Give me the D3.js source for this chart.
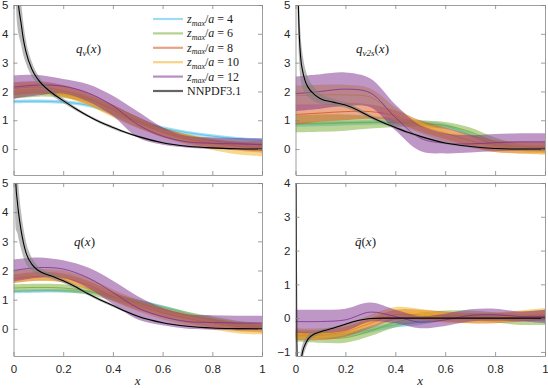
<!DOCTYPE html>
<html>
<head>
<meta charset="utf-8">
<script src="https://cdn.jsdelivr.net/npm/d3@7"></script>
<style>
  body { margin: 0; background: #fff; }
  text { font-family: "Liberation Sans", Arial, sans-serif; }
</style>
</head>
<body>
<svg id="chart" width="548" height="388"></svg>
<script>
// lattice results, sampled at xs
var xs = [0, 0.1, 0.2, 0.3, 0.4, 0.5, 0.6, 0.7, 0.8, 0.9, 1.0];
var zmax = [4, 6, 8, 10, 12];
var colors = ["#4dbeee", "#77ac30", "#d95319", "#edb120", "#7e2f8e"];

// q_v(x): one row per zmax/a
var qvMid = [
  [1.65, 1.66, 1.63, 1.52, 1.25, 0.95, 0.73, 0.57, 0.45, 0.36, 0.30],
  [1.90, 1.95, 1.90, 1.72, 1.40, 1.00, 0.65, 0.42, 0.28, 0.20, 0.15],
  [2.10, 2.15, 2.02, 1.75, 1.35, 0.93, 0.58, 0.35, 0.20, 0.10, 0.05],
  [2.00, 2.10, 2.00, 1.72, 1.30, 0.90, 0.55, 0.30, 0.12, 0.00, -0.05],
  [2.15, 2.22, 2.18, 1.95, 1.50, 0.85, 0.45, 0.25, 0.20, 0.18, 0.15]
];
var qvErr = [
  [0.06, 0.06, 0.06, 0.06, 0.06, 0.06, 0.06, 0.06, 0.06, 0.06, 0.06],
  [0.15, 0.13, 0.12, 0.12, 0.12, 0.12, 0.10, 0.10, 0.10, 0.10, 0.12],
  [0.22, 0.20, 0.20, 0.20, 0.20, 0.18, 0.16, 0.15, 0.15, 0.15, 0.18],
  [0.25, 0.20, 0.20, 0.20, 0.20, 0.18, 0.15, 0.15, 0.15, 0.18, 0.20],
  [0.40, 0.35, 0.25, 0.30, 0.35, 0.45, 0.30, 0.20, 0.20, 0.20, 0.22]
];

// q_v2s(x)
var qv2sMid = [
  [0.85, 0.87, 0.90, 0.92, 0.93, 0.90, 0.80, 0.50, 0.15, 0.02, 0.00],
  [0.88, 0.90, 0.92, 0.93, 0.92, 0.88, 0.82, 0.60, 0.25, 0.05, 0.00],
  [1.20, 1.25, 1.30, 1.30, 1.15, 0.80, 0.55, 0.30, 0.10, 0.05, 0.05],
  [1.85, 1.88, 1.88, 1.80, 1.20, 0.75, 0.45, 0.25, 0.10, 0.05, 0.00],
  [1.92, 2.00, 2.08, 1.95, 1.10, 0.38, 0.20, 0.18, 0.22, 0.25, 0.25]
];
var qv2sErr = [
  [0.08, 0.08, 0.08, 0.08, 0.08, 0.08, 0.08, 0.08, 0.08, 0.08, 0.08],
  [0.30, 0.30, 0.28, 0.22, 0.15, 0.12, 0.12, 0.15, 0.15, 0.12, 0.12],
  [0.35, 0.30, 0.30, 0.25, 0.20, 0.20, 0.20, 0.20, 0.20, 0.20, 0.20],
  [0.35, 0.35, 0.35, 0.30, 0.25, 0.20, 0.20, 0.20, 0.20, 0.20, 0.20],
  [0.60, 0.60, 0.58, 0.50, 0.45, 0.45, 0.35, 0.30, 0.30, 0.30, 0.30]
];

// q(x)
var qMid = [
  [1.28, 1.30, 1.30, 1.27, 1.12, 0.95, 0.75, 0.52, 0.32, 0.17, 0.08],
  [1.40, 1.42, 1.40, 1.30, 1.10, 0.88, 0.66, 0.46, 0.30, 0.15, 0.08],
  [1.72, 1.80, 1.75, 1.50, 1.12, 0.80, 0.55, 0.35, 0.20, 0.08, 0.02],
  [1.80, 1.85, 1.80, 1.55, 1.15, 0.80, 0.52, 0.32, 0.18, 0.05, 0.00],
  [2.00, 2.10, 2.05, 1.75, 1.25, 0.72, 0.42, 0.25, 0.22, 0.20, 0.20]
];
var qErr = [
  [0.06, 0.06, 0.06, 0.06, 0.06, 0.06, 0.06, 0.06, 0.06, 0.06, 0.06],
  [0.13, 0.13, 0.13, 0.13, 0.13, 0.13, 0.13, 0.13, 0.13, 0.13, 0.13],
  [0.15, 0.15, 0.15, 0.15, 0.15, 0.15, 0.15, 0.15, 0.15, 0.15, 0.15],
  [0.20, 0.20, 0.20, 0.20, 0.20, 0.20, 0.20, 0.20, 0.20, 0.20, 0.20],
  [0.38, 0.35, 0.30, 0.35, 0.40, 0.40, 0.30, 0.25, 0.25, 0.25, 0.25]
];

// qbar(x)
var qbarMid = [
  [-0.50, -0.50, -0.48, -0.35, -0.20, -0.12, 0.00, 0.05, 0.03, 0.00, 0.00],
  [-0.55, -0.58, -0.58, -0.38, -0.12, 0.02, 0.08, 0.08, 0.02, -0.05, -0.05],
  [-0.50, -0.50, -0.40, -0.15, 0.10, 0.10, 0.05, 0.00, 0.00, 0.05, 0.10],
  [-0.45, -0.45, -0.35, -0.05, 0.18, 0.12, 0.02, 0.00, 0.02, 0.08, 0.15],
  [-0.10, -0.10, -0.05, 0.18, 0.05, -0.12, -0.05, 0.08, 0.10, 0.05, 0.05]
];
var qbarErr = [
  [0.08, 0.08, 0.08, 0.08, 0.08, 0.08, 0.08, 0.08, 0.08, 0.08, 0.08],
  [0.15, 0.15, 0.15, 0.15, 0.15, 0.15, 0.15, 0.15, 0.15, 0.15, 0.15],
  [0.15, 0.15, 0.15, 0.15, 0.15, 0.15, 0.15, 0.15, 0.15, 0.15, 0.15],
  [0.15, 0.15, 0.15, 0.15, 0.15, 0.15, 0.15, 0.15, 0.15, 0.15, 0.15],
  [0.35, 0.35, 0.33, 0.28, 0.20, 0.18, 0.18, 0.18, 0.18, 0.15, 0.20]
];

// NNPDF3.1, denser at small x
var nnX = [0.002, 0.005, 0.01, 0.015, 0.02, 0.03, 0.04, 0.05, 0.075, 0.1, 0.15, 0.2,
           0.25, 0.3, 0.35, 0.4, 0.45, 0.5, 0.6, 0.7, 0.8, 0.9, 1.0];
var qvNN = [12, 8.5, 6.6, 5.5, 5.0, 4.4, 3.8, 3.38, 2.75, 2.4, 1.98, 1.68,
            1.4, 1.15, 0.93, 0.75, 0.58, 0.44, 0.22, 0.1, 0.04, 0.01, 0];
var qvNNErr = [2.5, 2.0, 1.6, 1.2, 1.0, 0.75, 0.55, 0.4, 0.25, 0.15, 0.1, 0.08,
               0.06, 0.05, 0.05, 0.05, 0.04, 0.04, 0.03, 0.02, 0.02, 0.01, 0.01];
var qv2sNN = [14, 9, 5.6, 4.0, 3.25, 2.65, 2.33, 2.15, 1.9, 1.75, 1.63, 1.53,
              1.35, 1.12, 0.92, 0.75, 0.58, 0.44, 0.21, 0.09, 0.02, 0.0, 0.0];
var qv2sNNErr = [4, 2.5, 1.5, 1.0, 0.8, 0.55, 0.42, 0.33, 0.24, 0.18, 0.12, 0.1,
                 0.08, 0.07, 0.05, 0.05, 0.05, 0.05, 0.04, 0.03, 0.02, 0.02, 0.02];
var qNN = [12, 6.5, 4.9, 4.4, 4.0, 3.4, 2.95, 2.62, 2.2, 2.0, 1.82, 1.65,
           1.44, 1.2, 0.99, 0.8, 0.6, 0.43, 0.21, 0.09, 0.03, 0.01, 0];
var qNNErr = [2.5, 2.0, 1.5, 1.1, 0.9, 0.65, 0.5, 0.38, 0.22, 0.14, 0.1, 0.08,
              0.06, 0.05, 0.05, 0.05, 0.04, 0.04, 0.03, 0.02, 0.02, 0.01, 0.01];
var qbarNN = [5, -0.6, -1.7, -1.7, -1.35, -0.95, -0.76, -0.62, -0.47, -0.4, -0.3, -0.18,
              -0.07, -0.01, 0, 0, 0, 0, 0, 0, 0, 0, 0];
var qbarNNErr = [2, 1, 0.5, 0.4, 0.32, 0.22, 0.16, 0.12, 0.08, 0.06, 0.04, 0.03,
                 0.02, 0.02, 0.02, 0.02, 0.02, 0.02, 0.02, 0.02, 0.02, 0.02, 0.02];

var svg = d3.select("#chart");

var panels = [
  {id: "qv",   left: 13.5,  right: 262, top: 5,   bottom: 175, ydom: [-0.9, 5],  yticks: [0,1,2,3,4,5],
   mid: qvMid, err: qvErr, nn: qvNN, nnErr: qvNNErr, xlabels: false},
  {id: "qv2s", left: 295.5, right: 545, top: 5,   bottom: 175, ydom: [-0.9, 5],  yticks: [0,1,2,3,4,5],
   mid: qv2sMid, err: qv2sErr, nn: qv2sNN, nnErr: qv2sNNErr, xlabels: false},
  {id: "q",    left: 13.5,  right: 262, top: 183, bottom: 356, ydom: [-0.93, 5], yticks: [0,1,2,3,4,5],
   mid: qMid, err: qErr, nn: qNN, nnErr: qNNErr, xlabels: true},
  {id: "qbar", left: 295.5, right: 545, top: 183, bottom: 356, ydom: [-1.12, 4], yticks: [-1,0,1,2,3,4],
   mid: qbarMid, err: qbarErr, nn: qbarNN, nnErr: qbarNNErr, xlabels: true}
];

function styleAxis(g) {
  g.selectAll("path, line").attr("stroke", "#858585").attr("stroke-width", 0.8);
  g.selectAll("text").attr("fill", "#262626").style("font-size", "11.5px");
}

panels.forEach(function(p) {
  var x = d3.scaleLinear().domain([0, 1]).range([p.left, p.right]);
  var y = d3.scaleLinear().domain(p.ydom).range([p.bottom, p.top]);

  svg.append("clipPath").attr("id", "clip-" + p.id)
    .append("rect")
    .attr("x", p.left).attr("y", p.top)
    .attr("width", p.right - p.left).attr("height", p.bottom - p.top);

  var plot = svg.append("g").attr("clip-path", "url(#clip-" + p.id + ")");

  p.mid.forEach(function(m, k) {
    var e = p.err[k];
    var band = d3.area()
      .x(function(d, i) { return x(xs[i]); })
      .y0(function(d, i) { return y(d - e[i]); })
      .y1(function(d, i) { return y(d + e[i]); })
      .curve(d3.curveCatmullRom.alpha(0.5));
    var line = d3.line()
      .x(function(d, i) { return x(xs[i]); })
      .y(function(d) { return y(d); })
      .curve(d3.curveCatmullRom.alpha(0.5));
    plot.append("path").datum(m).attr("d", band)
      .attr("fill", colors[k]).attr("fill-opacity", 0.5).attr("stroke", "none");
    plot.append("path").datum(m).attr("d", line)
      .attr("fill", "none").attr("stroke", colors[k]).attr("stroke-width", 0.8);
  });

  var nnBand = d3.area()
    .x(function(d, i) { return x(nnX[i]); })
    .y0(function(d, i) { return y(d - p.nnErr[i]); })
    .y1(function(d, i) { return y(d + p.nnErr[i]); })
    .curve(d3.curveMonotoneX);
  var nnLine = d3.line()
    .x(function(d, i) { return x(nnX[i]); })
    .y(function(d) { return y(d); })
    .curve(d3.curveMonotoneX);
  plot.append("path").datum(p.nn).attr("d", nnBand)
    .attr("fill", "#808080").attr("fill-opacity", 0.55);
  plot.append("path").datum(p.nn).attr("d", nnLine)
    .attr("fill", "none").attr("stroke", "#000").attr("stroke-width", 1.1);

  // box with inward ticks on all four sides
  var xt = [0, 0.2, 0.4, 0.6, 0.8, 1];
  var bottomAxis = d3.axisBottom(x).tickValues(xt).tickSizeInner(-4).tickSizeOuter(0).tickPadding(9)
    .tickFormat(p.xlabels ? d3.format("") : "");
  svg.append("g").attr("transform", "translate(0," + p.bottom + ")").call(bottomAxis).call(styleAxis);
  svg.append("g").attr("transform", "translate(0," + p.top + ")")
    .call(d3.axisTop(x).tickValues(xt).tickSizeInner(-4).tickSizeOuter(0).tickFormat(""))
    .call(styleAxis);
  svg.append("g").attr("transform", "translate(" + p.left + ",0)")
    .call(d3.axisLeft(y).tickValues(p.yticks).tickSizeInner(-4).tickSizeOuter(0).tickPadding(5)
      .tickFormat(d3.format("")))
    .call(styleAxis);
  svg.append("g").attr("transform", "translate(" + p.right + ",0)")
    .call(d3.axisRight(y).tickValues(p.yticks).tickSizeInner(-4).tickSizeOuter(0).tickFormat(""))
    .call(styleAxis);

  if (p.xlabels) {
    svg.append("text")
      .attr("x", (p.left + p.right) / 2).attr("y", 385)
      .attr("text-anchor", "middle")
      .style("font-family", "'Liberation Serif', serif").style("font-style", "italic")
      .style("font-size", "13px").attr("fill", "#262626")
      .text("x");
  }
});

// panel labels, LaTeX-ish
function mathLabel(xp, yp, base, sub) {
  var t = svg.append("text").attr("x", xp).attr("y", yp)
    .style("font-family", "'Liberation Serif', serif").style("font-size", "13px")
    .attr("fill", "#1a1a1a");
  t.append("tspan").style("font-style", "italic").text(base);
  if (sub) {
    t.append("tspan").style("font-style", "italic").style("font-size", "9px").attr("dy", 3).text(sub);
    t.append("tspan").attr("dy", -3).text("(");
  } else {
    t.append("tspan").text("(");
  }
  t.append("tspan").style("font-style", "italic").text("x");
  t.append("tspan").text(")");
}
mathLabel(76, 53, "q", "v");
mathLabel(356, 53, "q", "v2s");
mathLabel(74, 246, "q", null);
mathLabel(355, 246, "q\u0304", null);

// legend
var legend = svg.append("g");
var legendRows = zmax.map(function(z, k) { return {z: z, color: colors[k]}; });
legendRows.push({z: null, color: "#555"});
legendRows.forEach(function(r, i) {
  var yy = 19 + i * 14.4;
  legend.append("line")
    .attr("x1", 153).attr("x2", 183).attr("y1", yy).attr("y2", yy)
    .attr("stroke", r.color).attr("stroke-width", 2.2)
    .attr("stroke-opacity", r.z === null ? 0.9 : 0.55);
  var t = legend.append("text").attr("x", 187).attr("y", yy + 4)
    .style("font-family", "'Liberation Serif', serif").style("font-size", "12px")
    .attr("fill", "#1a1a1a");
  if (r.z === null) {
    t.text("NNPDF3.1");
  } else {
    t.append("tspan").style("font-style", "italic").text("z");
    t.append("tspan").style("font-style", "italic").style("font-size", "8px").attr("dy", 2.5).text("max");
    t.append("tspan").attr("dy", -2.5).text("/");
    t.append("tspan").style("font-style", "italic").text("a");
    t.append("tspan").text(" = " + r.z);
  }
});
</script>
</body>
</html>
